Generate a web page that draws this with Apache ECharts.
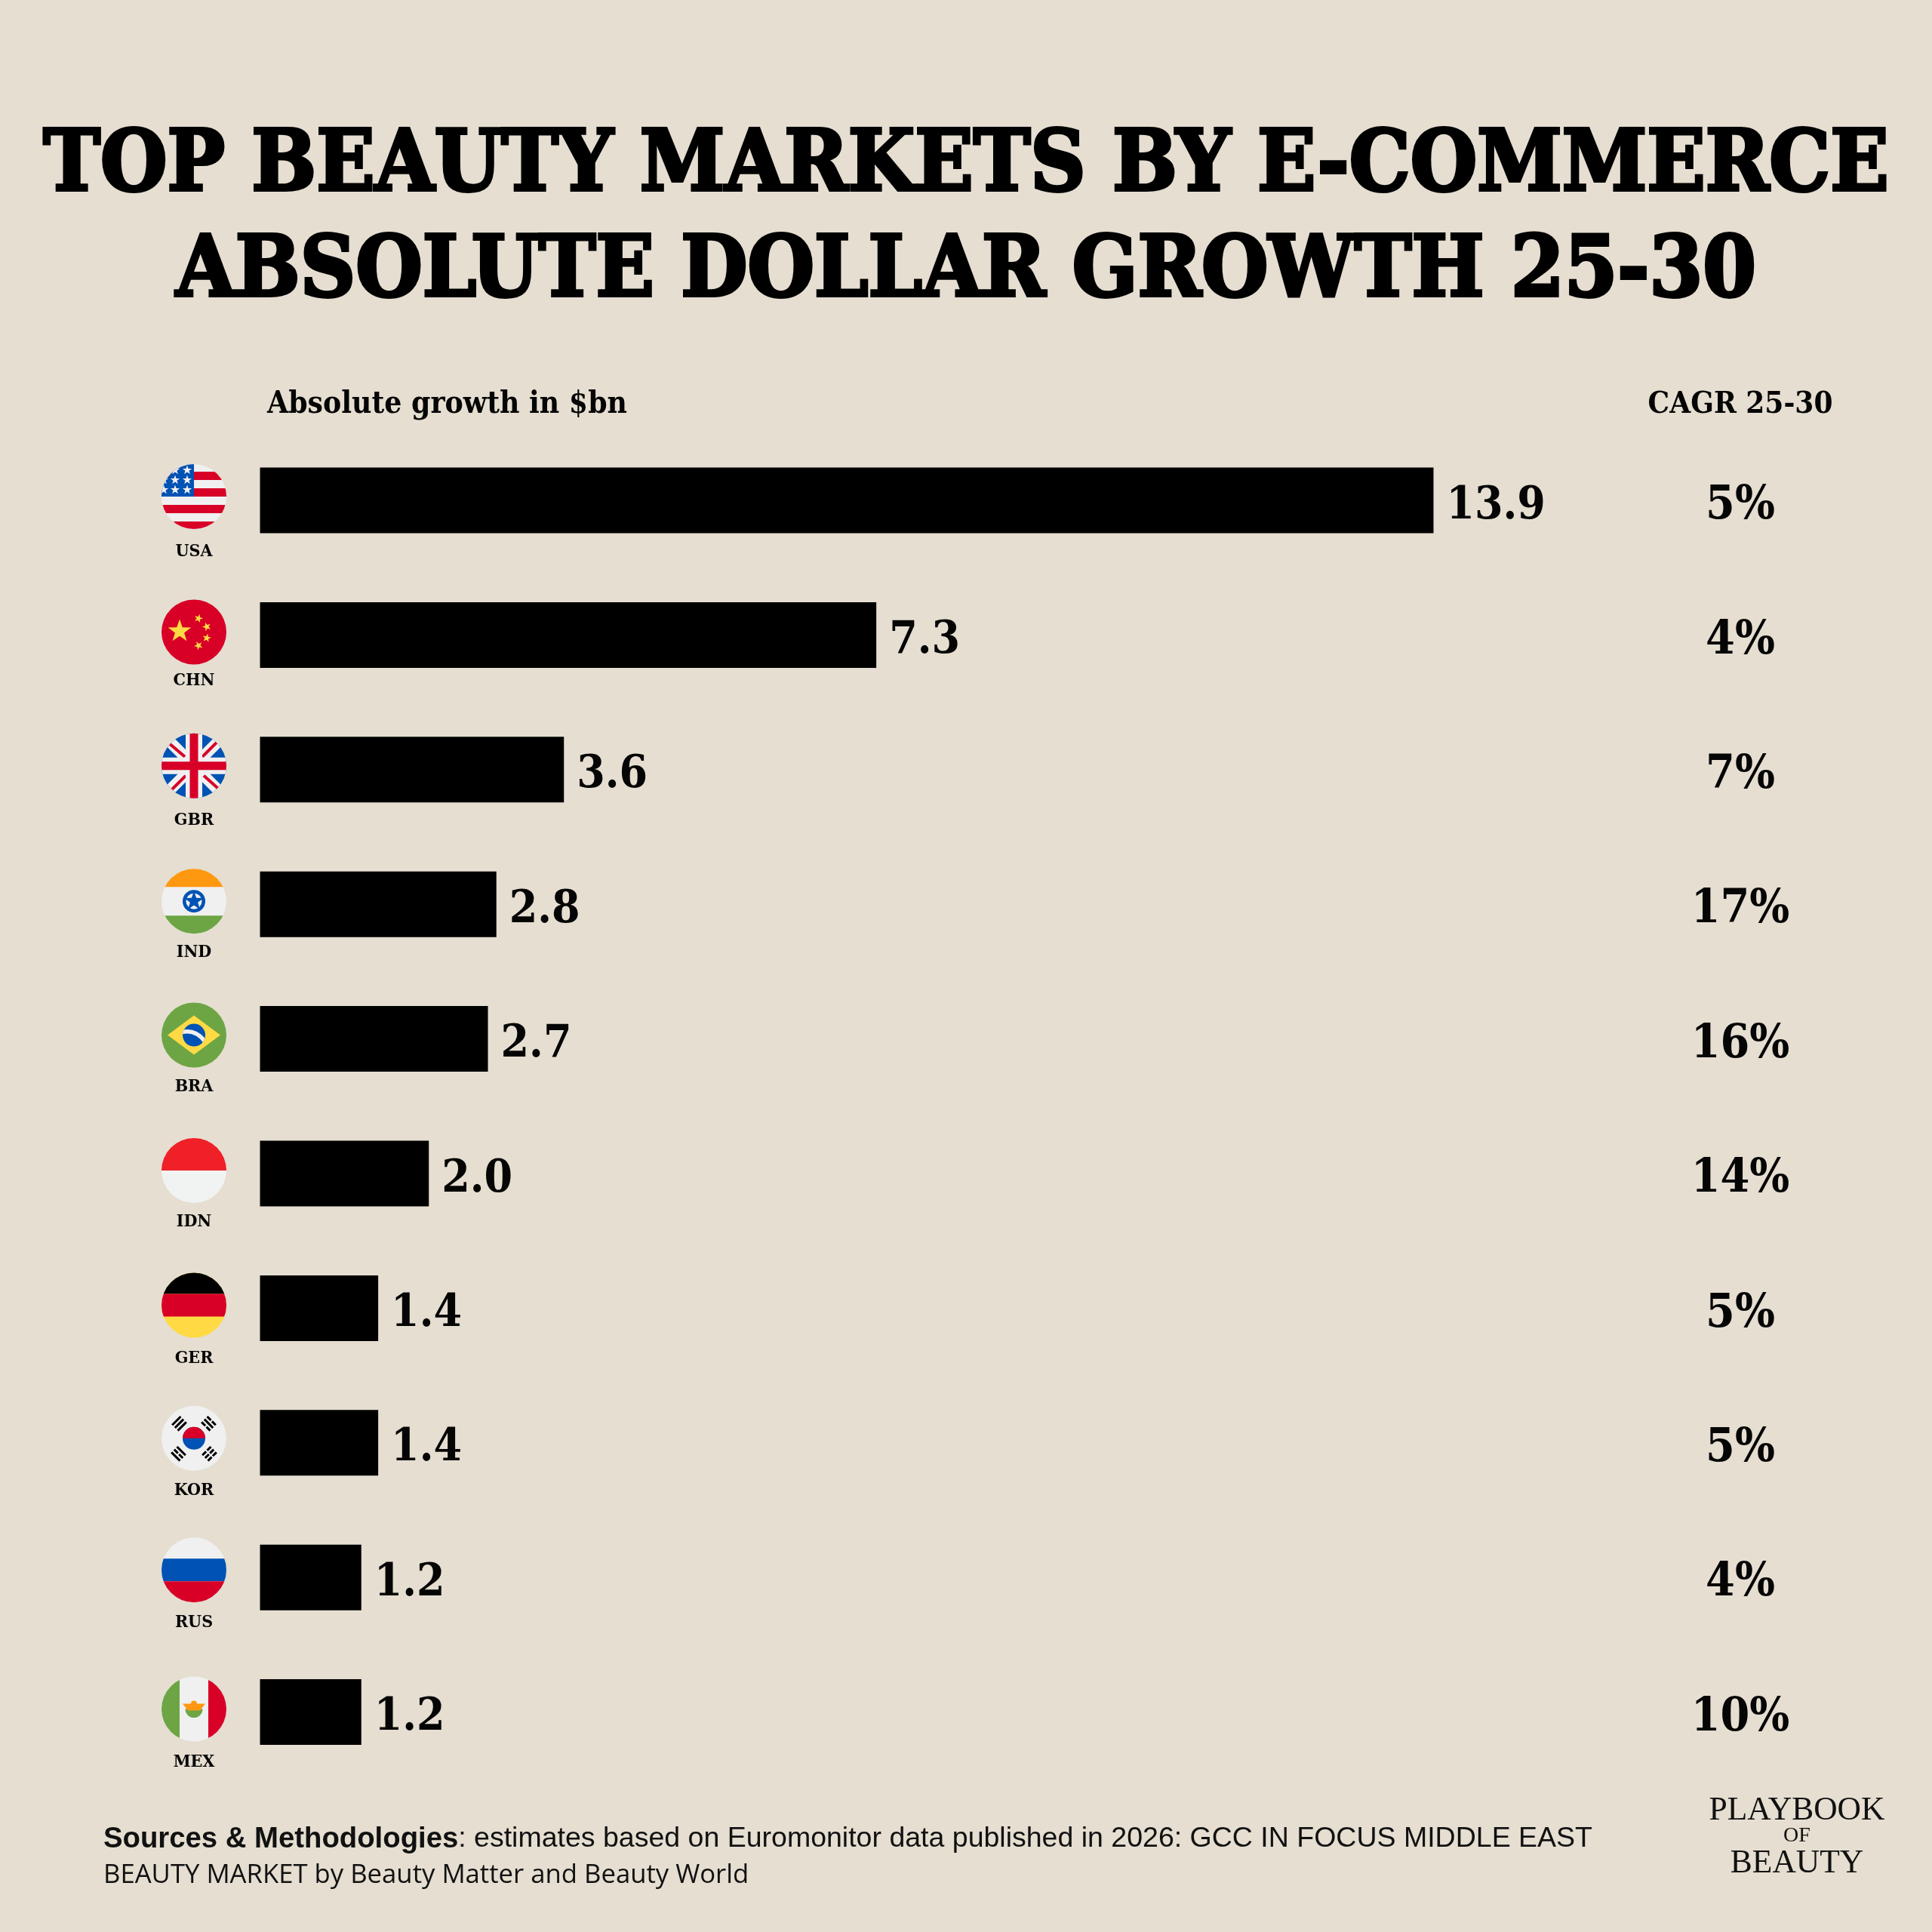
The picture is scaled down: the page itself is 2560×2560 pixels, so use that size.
<!DOCTYPE html>
<html><head><meta charset="utf-8">
<style>html,body{margin:0;padding:0;background:#E5DED1}#c{width:2560px;height:2560px}</style>
<script src="https://cdn.jsdelivr.net/npm/echarts@6/dist/echarts.min.js"></script>
</head><body><div id="c"></div>
<script>
const categories = ['USA','CHN','GBR','IND','BRA','IDN','GER','KOR','RUS','MEX'];
const growthBn = [13.9,7.3,3.6,2.8,2.7,2.0,1.4,1.4,1.2,1.2];
const cagrLabels = ['5%','4%','7%','17%','16%','14%','5%','5%','4%','10%'];
const titleLines = ['TOP BEAUTY MARKETS BY E-COMMERCE','ABSOLUTE DOLLAR GROWTH 25-30'];

const SLAB = '"DejaVu Serif Condensed","DejaVu Serif"';
const INK = '#050505', BG = '#E5DED1';
const RED='#D80027', BLUE='#0052B4', WHITE='#F0F0F0', YEL='#FFDA44', GRN='#6DA544', ORG='#FF9811';

function starPts(cx,cy,r,rot){
  const p=[];const a0=(rot||0)-Math.PI/2;
  for(let i=0;i<10;i++){const R=i%2?r*0.4:r;const a=a0+i*Math.PI/5;p.push([cx+R*Math.cos(a),cy+R*Math.sin(a)]);}
  return p;
}
const star=(x,y,r,fill,rot)=>({type:'polygon',shape:{points:starPts(x,y,r,rot)},style:{fill}});
const rect=(x,y,w,h,fill)=>({type:'rect',shape:{x,y,width:w,height:h},style:{fill}});
const circ=(cx,cy,r,fill)=>({type:'circle',shape:{cx,cy,r},style:{fill}});
const seg=(x1,y1,x2,y2,stroke,lineWidth)=>({type:'line',shape:{x1,y1,x2,y2},style:{stroke,lineWidth}});
const bg=f=>rect(-44,-44,88,88,f);
function trigram(cx,cy,rot,breaks){
  const kids=[];
  breaks.forEach((b,i)=>{
    const y=-6+i*5.2;
    if(b){kids.push(rect(-8,y,7,3,'#000'),rect(1,y,7,3,'#000'));}
    else kids.push(rect(-8,y,16,3,'#000'));
  });
  return {type:'group',x:cx,y:cy,rotation:rot,children:kids};
}
const flags={
 USA:()=>[bg(WHITE),rect(-44,-33,88,11,RED),rect(-44,-11,88,11,RED),rect(-44,11,88,11,RED),rect(-44,33,88,11,RED),
   rect(-44,-44,44,44,BLUE),
   star(-9,-35,6.5,WHITE),star(-25,-35,6.5,WHITE),star(-9,-22,6.5,WHITE),star(-25,-22,6.5,WHITE),star(-40,-22,6.5,WHITE),
   star(-9,-9,6.5,WHITE),star(-25,-9,6.5,WHITE),star(-40,-9,6.5,WHITE)],
 CHN:()=>[bg(RED),star(-19,-1,16,YEL),star(6,-18,6,YEL,.3),star(17,-7,6,YEL,.9),star(17,8,6,YEL,.2),star(6,18,6,YEL,.8)],
 GBR:()=>[bg(BLUE),seg(-34,-34,34,34,WHITE,15),seg(34,-34,-34,34,WHITE,15),
   seg(-32,-29,-12,-12,RED,4),seg(11,-12,30,-31,RED,4),seg(-29,31,-11,13,RED,4),seg(13,13,32,30,RED,4),
   rect(-11,-44,22,88,WHITE),rect(-44,-11,88,22,WHITE),rect(-5.5,-44,11,88,RED),rect(-44,-5.5,88,11,RED)],
 IND:()=>[bg(WHITE),rect(-44,-44,88,25,ORG),rect(-44,19,88,25,GRN),circ(0,0,15,BLUE),circ(0,0,10.5,WHITE),
   star(0,0,13.5,BLUE),circ(0,0,5,BLUE)],
 BRA:()=>[bg(GRN),{type:'polygon',shape:{points:[[-35,0],[0,-26],[35,0],[0,26]]},style:{fill:YEL}},circ(0,0,15,BLUE),
   {type:'group',clipPath:{type:'circle',shape:{cx:0,cy:0,r:15}},children:[
     {type:'bezierCurve',shape:{x1:-16,y1:-4,x2:15,y2:9,cpx1:-3,cpy1:-7,cpx2:7,cpy2:-2},style:{stroke:WHITE,lineWidth:5.5,fill:'none'}}]}],
 IDN:()=>[bg('#F1F2F2'),rect(-44,-44,88,44,'#EF2027')],
 GER:()=>[bg(YEL),rect(-44,-44,88,29,'#000'),rect(-44,-15,88,30,RED)],
 KOR:()=>[bg(WHITE),circ(0,0,15,BLUE),{type:'group',clipPath:{type:'rect',shape:{x:-16,y:-16,width:32,height:16}},children:[circ(0,0,15,RED)]},
   trigram(-20,-20,Math.PI/4,[0,0,0]),trigram(20,-20,-Math.PI/4,[1,0,1]),trigram(-20,20,-Math.PI/4,[0,1,0]),trigram(20,20,Math.PI/4,[1,1,1])],
 RUS:()=>[bg(WHITE),rect(-44,-15,88,30,BLUE),rect(-44,15,88,29,RED)],
 MEX:()=>[bg(WHITE),rect(-44,-44,25,88,GRN),rect(19,-44,25,88,RED),
   {type:'sector',shape:{cx:0,cy:0,r0:0,r:11.5,startAngle:0,endAngle:Math.PI},style:{fill:GRN}},
   {type:'polygon',shape:{points:[[-15,-7],[15,-7],[8,2],[-8,2]]},style:{fill:ORG}},circ(0,-7,4,ORG)]
};
const FLAG_X=257, FLAG_R=43, CAGR_X=2306;
const flagDy=[-5,-4,-5,-4,-5,-4,-4,-6,-10,-4];
const labelDy=[73,65,72,68,68,68,71,69,70,70];

const option={
 backgroundColor:BG,
 animation:false,
 title:{text:titleLines.join('\n'),left:1280,top:153,padding:0,textAlign:'center',
   textStyle:{fontFamily:SLAB,fontWeight:'bold',fontSize:113,lineHeight:140,color:'#000',textBorderColor:'#000',textBorderWidth:4}},
 grid:{left:344.5,top:573.8,width:2125.5,height:1784,containLabel:false},
 xAxis:{type:'value',min:0,max:19,show:false},
 yAxis:{type:'category',inverse:true,data:categories,show:false},
 series:[
  {type:'bar',data:growthBn,barWidth:87,itemStyle:{color:'#000'},
   label:{show:true,position:'right',distance:17,offset:[0,8],formatter:p=>p.value.toFixed(1),
     fontFamily:SLAB,fontWeight:'bold',fontSize:60,color:INK}},
  {type:'custom',coordinateSystem:'cartesian2d',clip:false,silent:true,
   encode:{x:0,y:1},
   data:categories.map((c,i)=>[0,i]),
   renderItem:(params,api)=>{
     const i=params.dataIndex;const y=api.coord([0,i])[1];const code=categories[i];
     return {type:'group',children:[
       {type:'group',x:FLAG_X,y:y+flagDy[i],clipPath:{type:'circle',shape:{cx:0,cy:0,r:FLAG_R}},children:flags[code]()},
       {type:'text',x:FLAG_X,y:y+flagDy[i]+labelDy[i],style:{text:code,x:0,y:0,align:'center',verticalAlign:'middle',
          fontFamily:SLAB,fontWeight:'bold',fontSize:23,fill:INK}},
       {type:'text',x:CAGR_X,y:y+8,style:{text:cagrLabels[i],x:0,y:0,align:'center',verticalAlign:'middle',
          fontFamily:SLAB,fontWeight:'bold',fontSize:62,fill:INK}}
     ]};
   }}
 ],
 graphic:[
  {type:'text',x:354,y:537,style:{text:'Absolute growth in $bn',x:0,y:0,align:'left',verticalAlign:'middle',fontFamily:SLAB,fontWeight:'bold',fontSize:40.4,fill:INK}},
  {type:'text',x:2306,y:537,style:{text:'CAGR 25-30',x:0,y:0,align:'center',verticalAlign:'middle',fontFamily:SLAB,fontWeight:'bold',fontSize:40,fill:INK}},
  {type:'text',x:137,y:2437,style:{x:0,y:0,align:'left',verticalAlign:'middle',
     text:'{b|Sources & Methodologies}{r|: estimates based on Euromonitor data published in 2026: GCC IN FOCUS MIDDLE EAST}',
     rich:{b:{fontFamily:'"Liberation Sans"',fontWeight:'bold',fontSize:38.3,fill:'#111'},r:{fontFamily:'"Liberation Sans"',fontSize:37.5,fill:'#111'}}}},
  {type:'text',x:137,y:2485,style:{text:'BEAUTY MARKET by Beauty Matter and Beauty World',x:0,y:0,align:'left',verticalAlign:'middle',fontFamily:'"Open Sans"',fontSize:34.7,fill:'#111'}},
  {type:'text',x:2381,y:2400,style:{text:'PLAYBOOK',x:0,y:0,align:'center',verticalAlign:'middle',fontFamily:'"Liberation Serif"',fontSize:43.5,fill:'#111'}},
  {type:'text',x:2381,y:2433,style:{text:'OF',x:0,y:0,align:'center',verticalAlign:'middle',fontFamily:'"Liberation Serif"',fontSize:28,fill:'#111'}},
  {type:'text',x:2381,y:2470,style:{text:'BEAUTY',x:0,y:0,align:'center',verticalAlign:'middle',fontFamily:'"Liberation Serif"',fontSize:43.5,fill:'#111'}}
 ]
};
const chart=echarts.init(document.getElementById('c'),null,{renderer:'canvas',width:2560,height:2560});
chart.setOption(option);
</script></body></html>
